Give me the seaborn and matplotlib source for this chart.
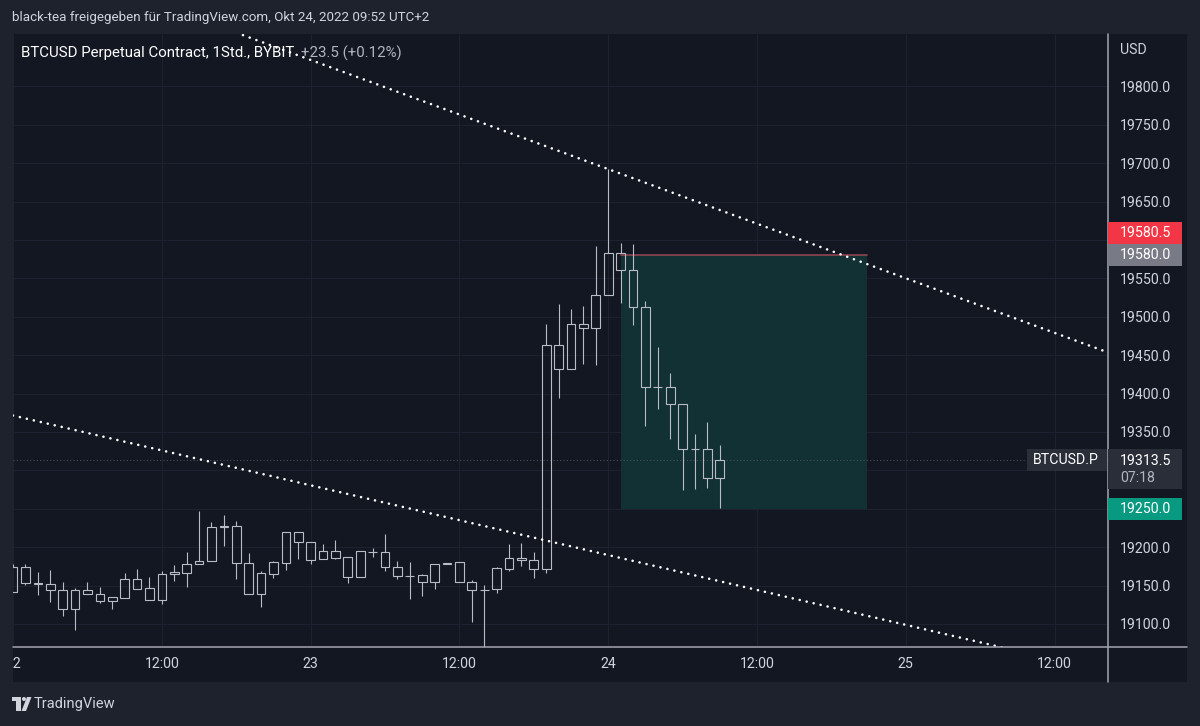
"""BTCUSD perpetual, 1h candles with trend lines and a short position zone (TradingView style).
"""

import numpy as np
import pandas as pd
import seaborn as sns
import matplotlib.pyplot as plt
from matplotlib.patches import Rectangle, Circle, Polygon
from matplotlib.lines import Line2D
from matplotlib.transforms import Affine2D

W, H = 1200, 726

# hourly candles, hour 0 = Oct 22 00:00 (UTC+2)
hours = list(range(58))
opens = [19141, 19174.5, 19153.5, 19151.5, 19144, 19119, 19144, 19138.5, 19130, 19133.5,
         19158, 19146.5, 19131, 19165, 19167, 19177.5, 19181.5, 19226.5, 19227.5, 19180,
         19139.5, 19165.5, 19180, 19219.5, 19207, 19184, 19195, 19187, 19161, 19194,
         19194, 19174.5, 19162.5, 19163.5, 19154.5, 19178, 19180.5, 19155, 19144.5, 19145,
         19171.5, 19185.5, 19183.5, 19171, 19463.5, 19431.5, 19490.5, 19485, 19528, 19582.5,
         19561.5, 19512.5, 19409, 19408.5, 19387, 19327.5, 19327.5, 19290]
highs = [19178, 19177.5, 19167.5, 19170, 19154.5, 19146.5, 19154.5, 19148, 19135, 19166.5,
         19171.5, 19161.5, 19169, 19177, 19194, 19247, 19232.5, 19242, 19234.5, 19192,
         19169.5, 19182.5, 19219.5, 19219.5, 19207, 19204, 19209.5, 19187, 19195.5, 19198.5,
         19217, 19182, 19181, 19164.5, 19177.5, 19180, 19180.5, 19157.5, 19151, 19174.5,
         19204, 19205, 19194, 19490.5, 19516.5, 19510, 19514.5, 19592, 19692.5, 19595.5,
         19594.5, 19521, 19461, 19426.5, 19387, 19347.5, 19363, 19333]
lows = [19141, 19151, 19138, 19128.5, 19111, 19091.5, 19138.5, 19127, 19120, 19133.5,
        19145.5, 19131, 19126.5, 19156, 19148, 19177.5, 19181.5, 19201.5, 19158, 19139,
        19122.5, 19160, 19170.5, 19185, 19178.5, 19184, 19184, 19154, 19161, 19187.5,
        19169.5, 19159, 19132, 19137, 19146, 19178, 19154.5, 19102, 19068, 19140,
        19169, 19175.5, 19159.5, 19167, 19394.5, 19431.5, 19438, 19437, 19528, 19517.5,
        19489.5, 19358, 19379.5, 19341.5, 19274.5, 19276, 19276.5, 19251.5]
closes = [19174.5, 19153.5, 19152, 19144, 19119, 19144.5, 19138.5, 19129.5, 19135, 19158,
          19145.5, 19131, 19164.5, 19167.5, 19177.5, 19181.5, 19226.5, 19227.5, 19180, 19139,
          19166, 19180.5, 19219.5, 19207, 19183.5, 19195, 19186.5, 19161, 19195.5, 19194,
          19174, 19162, 19162.5, 19154.5, 19177.5, 19180, 19154.5, 19144, 19144.5, 19172.5,
          19186.5, 19183.5, 19171, 19463.5, 19431.5, 19490.5, 19485, 19529, 19582.5, 19561,
          19512.5, 19409, 19408.5, 19387, 19327.5, 19327.5, 19290, 19313.5]

x_ticks = [0, 12, 24, 36, 48, 60, 72, 84]
x_labels = ["22", "12:00", "23", "12:00", "24", "12:00", "25", "12:00"]
price_ticks = list(range(19100, 19801, 50))
hidden_ticks = [19600, 19300, 19250]  # covered by the price tags

# trend lines, anchor points (hour, price)
upper_hours = [18, 89]
upper_prices = [19870.0, 19449.5]
lower_hours = [-2, 82]
lower_prices = [19379.0, 19061.0]

# short position tool
pos_start, pos_end = 49, 68.85
entry_price = 19580.0
stop_price = 19580.5
target_price = 19250.0
last_price = 19313.5

FRAME = "#1e222d"
BG = "#131722"
GRID = "#1e2230"
TXT = "#d1d4dc"
CANDLE = "#b9bcc4"
AXLINE = "#a3a6af"
XLIM = (-0.03, 88.27)
YLIM = (19070.4, 19868.9)

df = pd.DataFrame({"hour": hours, "open": opens, "high": highs, "low": lows, "close": closes})
body_top = df[["open", "close"]].max(axis=1)
body_bot = df[["open", "close"]].min(axis=1)

sns.set_theme(style="dark", rc={"axes.facecolor": BG, "figure.facecolor": FRAME})
plt.rcParams["font.family"] = ["Roboto", "DejaVu Sans"]

fig = plt.figure(figsize=(12, 7.26), dpi=100, facecolor=FRAME)
ax = fig.add_axes([12.7 / W, 1 - 646.7 / H, (1107.5 - 12.7) / W, (646.7 - 33.5) / H])
ax.set_facecolor(BG)

# pixel coords from top-left corner
px = Affine2D().scale(1 / W, -1 / H).translate(0, 1) + fig.transFigure

# chart panel incl. scales
fig.add_artist(Rectangle((12.7, 33.5), 1187 - 12.7, 681.7 - 33.5, transform=px,
                         facecolor=BG, edgecolor="none", zorder=-5))

# position zone
ax.add_patch(Rectangle((pos_start, target_price), pos_end - pos_start, entry_price - target_price,
                       facecolor="#113135", edgecolor="none", zorder=1))
ax.plot([pos_start, pos_end], [stop_price, stop_price], color="#8f4550", lw=1.2, zorder=1.5)

# last price line
ax.axhline(last_price, color="#4a4d58", lw=0.8, ls=(0, (1, 2)), zorder=1.2)

# candles (hollow)
ax.bar(df["hour"], (body_top - body_bot).clip(lower=0.3), bottom=body_bot, width=0.7,
       fill=False, edgecolor=CANDLE, linewidth=0.8, zorder=3)
ax.vlines(df["hour"], body_top, df["high"], color=CANDLE, lw=0.8, zorder=3)
ax.vlines(df["hour"], df["low"], body_bot, color=CANDLE, lw=0.8, zorder=3)

# trend lines
for xs, ys in [(upper_hours, upper_prices), (lower_hours, lower_prices)]:
    sns.lineplot(x=xs, y=ys, ax=ax, color="white", lw=1.9,
                 linestyle=(0, (0.01, 2.7)), dash_capstyle="round", zorder=4)

ax.set_xlim(*XLIM)
ax.set_ylim(*YLIM)
ax.set_xlabel("")
ax.set_ylabel("")
ax.set_xticks(x_ticks)
ax.set_xticklabels(x_labels)
ax.set_yticks(price_ticks)
ax.set_yticklabels(["" if v in hidden_ticks else f"{v:.1f}" for v in price_ticks])
ax.grid(True, color=GRID, lw=0.8)
ax.set_axisbelow(True)
for s in ax.spines.values():
    s.set_visible(False)
ax.yaxis.tick_right()
ax.tick_params(axis="y", length=0, pad=9, labelsize=10.2, labelcolor=TXT)
ax.tick_params(axis="x", length=0, pad=7.5, labelsize=10.2, labelcolor=TXT)

# left mask (cuts the "22" label)
fig.add_artist(Rectangle((0, 33.5), 12.7, 681.7 - 33.5, transform=px,
                         facecolor=FRAME, edgecolor="none", zorder=5))

# scale separators
fig.add_artist(Line2D([12.7, 1187], [646.7, 646.7], transform=px, color=AXLINE, lw=1.1, zorder=5))
fig.add_artist(Line2D([1107.5, 1107.5], [33.5, 681.7], transform=px, color=AXLINE, lw=1.1, zorder=5))


def price_px(p):
    return H - ax.transData.transform((0, p))[1]


def tag(yc, text, bg, x0=1107.5, x1=1182, h=22, fg="white", tx=1120):
    fig.add_artist(Rectangle((x0, yc - h / 2), x1 - x0, h, transform=px,
                             facecolor=bg, edgecolor="none", zorder=6))
    fig.text(tx, yc, text, transform=px, color=fg, fontsize=10.2, va="center",
             ha="left", zorder=7)


y_entry = price_px(entry_price)
tag(y_entry - 22.5, "19580.5", "#f23645")
tag(y_entry, "19580.0", "#787b86")
y_last = price_px(last_price)
fig.add_artist(Rectangle((1107.5, y_last - 11), 1182 - 1107.5, 40, transform=px,
                         facecolor="#2a2e39", edgecolor="none", zorder=6))
fig.text(1120, y_last + 0.5, f"{last_price:.1f}", transform=px, color="white", fontsize=10.2,
         va="center", zorder=7)
fig.text(1120, y_last + 18, "07:18", transform=px, color="#b2b5be", fontsize=10.2,
         va="center", zorder=7)
tag(y_last, "BTCUSD.P", "#2a2e39", x0=1026.7, x1=1106.7, tx=1033)
tag(price_px(target_price), "19250.0", "#089981")

fig.text(1120, 50, "USD", transform=px, color=TXT, fontsize=10.2, va="center")

# header and legend
fig.text(12, 18, "black-tea freigegeben für TradingView.com, Okt 24, 2022 09:52 UTC+2",
         transform=px, color=TXT, fontsize=9.6, va="center")
t1 = ax.text(21, 53, "BTCUSD Perpetual Contract, 1Std., BYBIT", transform=px, color="white",
             fontsize=10.8, va="center", zorder=2, clip_on=False)
fig.canvas.draw()
bb = t1.get_window_extent()
ax.text(bb.x1 + 7, 53, "+23.5 (+0.12%)", transform=px, color="#b2b5be",
        fontsize=10.8, va="center", zorder=2, clip_on=False)

# TradingView logo
fig.add_artist(Rectangle((12, 697), 9, 4, transform=px, facecolor=TXT, edgecolor="none"))
fig.add_artist(Rectangle((16, 697), 5, 14, transform=px, facecolor=TXT, edgecolor="none"))
fig.add_artist(Circle((24, 699), 2, transform=px, facecolor=TXT, edgecolor="none"))
fig.add_artist(Polygon([(27, 697), (31.5, 697), (26, 711), (21.5, 711)], closed=True,
                       transform=px, facecolor=TXT, edgecolor="none"))
fig.text(34, 704, "TradingView", transform=px, color=TXT, fontsize=10.5, va="center")

fig.savefig("out.png", dpi=100, facecolor=FRAME)
